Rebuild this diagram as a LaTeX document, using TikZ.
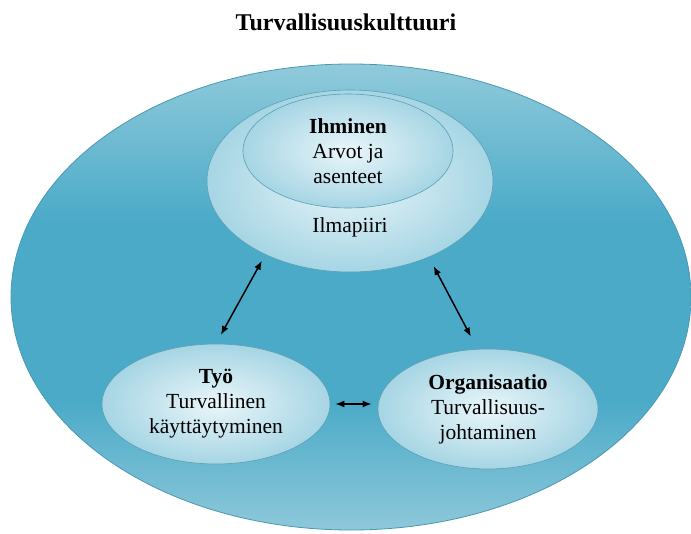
\documentclass[tikz,border=0pt]{standalone}
\usepackage{fontspec}
\setmainfont{Liberation Serif}
\usetikzlibrary{shapes.geometric,arrows.meta,calc}

\definecolor{tealtop}{HTML}{90CADB}
\definecolor{tealmid}{HTML}{4AAAC8}
\definecolor{tealbot}{HTML}{8EC8DA}
\definecolor{tealrim}{HTML}{4A98B0}
\definecolor{lightin}{HTML}{EAF6FA}
\definecolor{lightout}{HTML}{A6D5E4}
\definecolor{rimblue}{HTML}{5C9FB3}

\pgfdeclareverticalshading{kulttuurivarjo}{100bp}{color(0bp)=(tealbot); color(25bp)=(tealbot);
  color(39bp)=(tealmid); color(58bp)=(tealmid); color(75bp)=(tealtop); color(100bp)=(tealtop)}

\begin{document}
\begin{tikzpicture}[x=1pt,y=-1pt,
  pallo/.style={ellipse, inner sep=0pt, draw=rimblue, line width=0.6pt,
    inner color=lightin, outer color=lightout, align=center,
    font=\fontsize{21.5}{25}\selectfont},
  teksti/.style={font=\fontsize{21.5}{25}\selectfont},
  nuoli/.style={{Latex[length=9pt,width=7pt]}-{Latex[length=9pt,width=7pt]}, line width=1.5pt}]

\useasboundingbox (0,0) rectangle (691,533);

\node[ellipse, minimum width=680pt, minimum height=466pt, draw=tealrim, line width=0.8pt,
  shading=kulttuurivarjo] (kulttuuri) at (351,297) {};

\node[font=\bfseries\fontsize{24}{28}\selectfont] (otsikko) at (346,22) {Turvallisuuskulttuuri};

\node[pallo, minimum width=286pt, minimum height=182pt] (ilma) at (350,181) {};
\node[pallo, minimum width=210pt, minimum height=114pt] (ihminen) at (348,151)
  {\textbf{Ihminen}\\Arvot ja\\asenteet};
\node[teksti] (ilmapiiri) at (350,227) {Ilmapiiri};

\node[pallo, minimum width=228pt, minimum height=120pt] (tyo) at (216,404)
  {\textbf{Työ}\\Turvallinen\\käyttäytyminen};
\node[pallo, minimum width=220pt, minimum height=120pt] (org) at (488,409)
  {\textbf{Organisaatio}\\Turvallisuus-\\johtaminen};

\draw[nuoli, shorten <=7pt, shorten >=10pt] (ilma.221) -- (tyo.north);
\draw[nuoli, shorten <=10pt, shorten >=14pt] (ilma.316) -- (org.100);
\draw[nuoli, shorten <=5pt, shorten >=6pt] (tyo.east) -- (tyo.east -| org.west);
\end{tikzpicture}
\end{document}
